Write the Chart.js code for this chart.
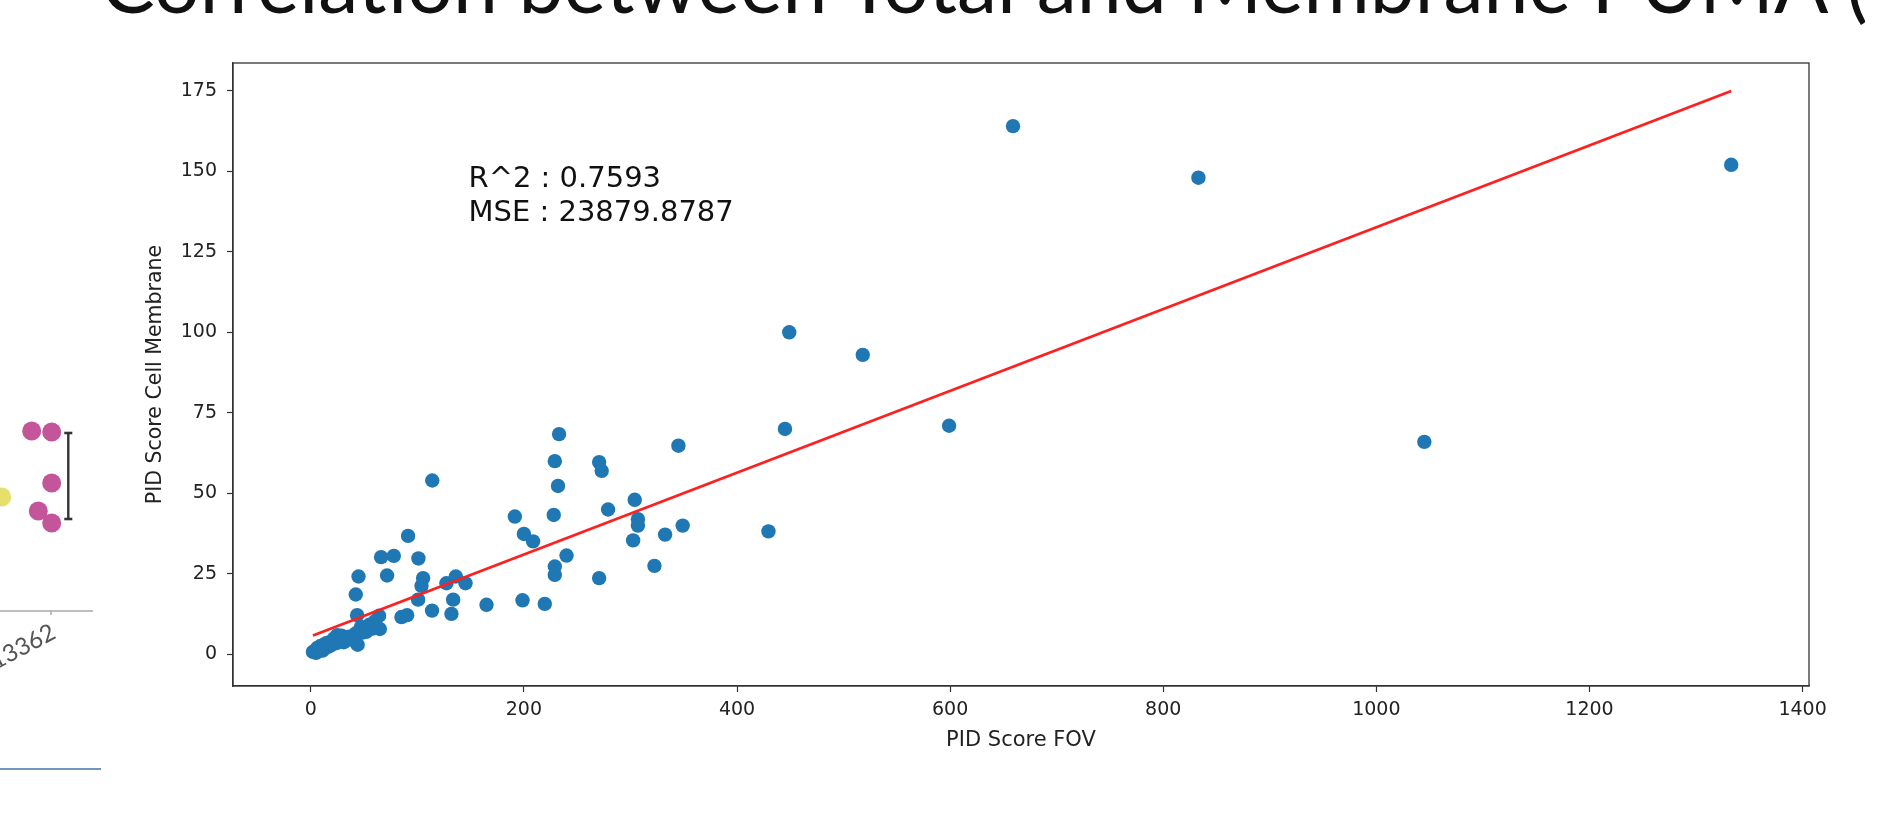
<!DOCTYPE html>
<html><head><meta charset="utf-8">
<script src="https://cdn.jsdelivr.net/npm/chart.js@4.4.1/dist/chart.umd.min.js"></script>
<style>
html,body{margin:0;padding:0;background:#fff;width:1877px;height:829px;overflow:hidden;position:relative;}
#main{position:absolute;left:0;top:0;}
#frag{position:absolute;left:0;top:380px;}
#slideTitle{position:absolute;left:101px;top:0;white-space:nowrap;font-family:Lato,'Open Sans',sans-serif;font-weight:400;color:#111;line-height:1;}
#sep{position:absolute;left:0;top:768px;width:101px;height:2px;background:#7096bb;}
</style></head><body>
<div id="slideTitle"><span id="titleMain">Correlation between Total and Membrane PUMA</span> (<span id="bl" style="display:inline-block;width:0;height:0;vertical-align:baseline"></span></div>
<canvas id="main" width="1877" height="829"></canvas>
<canvas id="frag" width="110" height="420"></canvas>
<div id="sep"></div>
<script>
// ---------------- main scatter data ----------------
const pidScoreFOV = [
  659, 833, 1333, 449, 518, 445, 599, 1045,
  233, 345, 114,
  229, 270.6, 273, 232, 304, 279, 307, 307, 349, 332.5, 302.5, 429.5, 322.5,
  228, 191.5, 200, 208.6, 229, 229, 240, 270.6, 198.7, 219.6, 164.9,
  91.3, 101, 66, 77.9, 71.6, 44.8, 42.2, 105.4, 103.9, 100.7, 127.3, 136.1, 145.2, 133.6, 132, 113.8,
  43.5, 64.1, 85.1, 90.4, 64.8,
  2, 4, 5, 6, 8, 9, 11, 12, 14, 15, 17, 19, 20, 22, 24, 25, 27, 29, 31, 33, 36, 39, 42, 44, 47, 49, 52, 55, 58, 60
];
const pidScoreMembrane = [
  164, 148, 152, 100, 93, 70, 71, 66,
  68.4, 64.8, 54,
  60, 59.7, 57, 52.3, 48, 45, 42, 40, 40, 37.2, 35.4, 38.2, 27.5,
  43.3, 42.8, 37.4, 35.1, 27.3, 24.7, 30.7, 23.7, 16.8, 15.7, 15.4,
  36.8, 29.8, 30.2, 30.6, 24.5, 24.2, 18.6, 23.7, 21.3, 17, 22.1, 24.2, 22.1, 17, 12.6, 13.6,
  12.2, 12, 11.6, 12.2, 7.9,
  0.8, 1.2, 0.5, 2, 1.5, 2.6, 1.2, 3, 2, 3.6, 2.5, 4, 3, 5, 3.5, 6, 4.5, 5.8, 3.8, 5, 5.5, 4.5, 6.5, 3, 8.5, 6.8, 7, 9.2, 8, 10.2
];
const fitLineX = [2, 1333];
const fitLineY = [5.9, 174.9];
const xTickValues = [0, 200, 400, 600, 800, 1000, 1200, 1400];
const yTickValues = [0, 25, 50, 75, 100, 125, 150, 175];
const xLimits = [-73, 1406];
const yLimits = [-9.8, 183.6];
const statsLines = ['R^2 : 0.7593', 'MSE : 23879.8787'];
const statsAnchor = [148, 145.2];

// ---------------- left fragment (cropped neighbour chart) ----------------
const fragPinkX = [0.807, 1.007, 1.007, 0.873, 1.007];
const fragPinkY = [18.0, 17.9, 12.8, 10.0, 8.8];
const fragYellowX = [0.507];
const fragYellowY = [11.4];
const fragErrX = [1.173, 1.173];
const fragErrY = [9.2, 17.8];
const fragCategoryValue = 1;
const fragCategoryLabel = '13362';

// ---------------- slide title fit ----------------
(function(){
  const tEl = document.getElementById('slideTitle');
  const tm = document.getElementById('titleMain');
  tEl.style.fontSize = '100px';
  const w = tm.getBoundingClientRect().width;
  tEl.style.fontSize = (100 * 1725 / w) + 'px';
  const bl = document.getElementById('bl').getBoundingClientRect().bottom;
  tEl.style.top = (13 - bl) + 'px';
})();

const boxPlugin = {
  id: 'boxPlugin',
  afterDraw(chart) {
    const {ctx, chartArea: a} = chart;
    ctx.save();
    ctx.strokeStyle = '#333';
    ctx.lineWidth = 1.3;
    ctx.strokeRect(a.left, a.top, a.right - a.left, a.bottom - a.top);
    ctx.restore();
  }
};
const statsPlugin = {
  id: 'statsPlugin',
  afterDraw(chart) {
    const {ctx, scales} = chart;
    const x = scales.x.getPixelForValue(statsAnchor[0]);
    const y = scales.y.getPixelForValue(statsAnchor[1]);
    ctx.save();
    ctx.font = '29px "DejaVu Sans"';
    ctx.fillStyle = '#111';
    ctx.textAlign = 'left';
    ctx.textBaseline = 'alphabetic';
    statsLines.forEach((t, i) => ctx.fillText(t, x, y + i * 34.5));
    ctx.restore();
  }
};

new Chart(document.getElementById('main'), {
  type: 'scatter',
  data: {
    datasets: [
      {
        type: 'line',
        data: fitLineX.map((x, i) => ({x, y: fitLineY[i]})),
        borderColor: '#ff1f1f', borderWidth: 2.7, pointRadius: 0, fill: false, tension: 0
      },
      {
        data: pidScoreFOV.map((x, i) => ({x, y: pidScoreMembrane[i]})),
        backgroundColor: '#1f77b4', borderWidth: 0, pointRadius: 7.2, pointHoverRadius: 7.2
      }
    ]
  },
  options: {
    responsive: false, animation: false, events: [],
    layout: {autoPadding: false, padding: {left: 143.5, right: 68, top: 63, bottom: 76}},
    plugins: {legend: {display: false}, tooltip: {enabled: false}},
    scales: {
      x: {
        type: 'linear', min: xLimits[0], max: xLimits[1],
        afterBuildTicks: s => { s.ticks = xTickValues.map(v => ({value: v})); },
        afterFit: s => { s.height = 67; },
        grid: {drawOnChartArea: false, drawTicks: true, tickLength: 6, tickWidth: 1.2, tickColor: '#333', color: '#333'},
        border: {display: true, color: '#333', width: 1.3},
        ticks: {font: {family: 'DejaVu Sans', size: 19}, color: '#222', padding: 7, maxRotation: 0, autoSkip: false, callback: v => String(v)},
        title: {display: true, text: 'PID Score FOV', font: {family: 'DejaVu Sans', size: 21}, color: '#222', padding: 0}
      },
      y: {
        type: 'linear', min: yLimits[0], max: yLimits[1],
        afterBuildTicks: s => { s.ticks = yTickValues.map(v => ({value: v})); },
        afterFit: s => { s.width = 89.5; },
        grid: {drawOnChartArea: false, drawTicks: true, tickLength: 6, tickWidth: 1.2, tickColor: '#333', color: '#333'},
        border: {display: true, color: '#333', width: 1.3},
        ticks: {font: {family: 'DejaVu Sans', size: 19}, color: '#222', padding: 10, autoSkip: false, callback: v => String(v)},
        title: {display: true, text: 'PID Score Cell Membrane', font: {family: 'DejaVu Sans', size: 20.5}, color: '#222', padding: 0}
      }
    }
  },
  plugins: [boxPlugin, statsPlugin]
});

// ---------------- fragment chart ----------------
const fragAxisPlugin = {
  id: 'fragAxis',
  afterDraw(chart) {
    const {ctx, scales} = chart;
    const y0 = scales.y.getPixelForValue(0);
    const xEnd = scales.x.getPixelForValue(1.42);
    const xc = scales.x.getPixelForValue(fragCategoryValue);
    ctx.save();
    ctx.strokeStyle = '#a8a8a8';
    ctx.lineWidth = 1.5;
    ctx.beginPath(); ctx.moveTo(0, y0); ctx.lineTo(xEnd, y0); ctx.stroke();
    ctx.beginPath(); ctx.moveTo(xc, y0); ctx.lineTo(xc, y0 + 4); ctx.stroke();
    ctx.translate(xc - 3, y0 + 9);
    ctx.rotate(-28 * Math.PI / 180);
    ctx.font = '24px Lato';
    ctx.fillStyle = '#555';
    ctx.textAlign = 'right';
    ctx.textBaseline = 'top';
    ctx.fillText(fragCategoryLabel, 0, 0);
    ctx.restore();
  }
};
new Chart(document.getElementById('frag'), {
  type: 'scatter',
  data: {
    datasets: [
      {
        type: 'line',
        data: fragErrX.map((x, i) => ({x, y: fragErrY[i]})),
        borderColor: '#333', borderWidth: 2.4,
        pointStyle: 'line', pointRadius: 4, pointBorderWidth: 2.6, pointBorderColor: '#333', fill: false
      },
      {
        data: fragPinkX.map((x, i) => ({x, y: fragPinkY[i]})),
        backgroundColor: '#c4559a', borderWidth: 0, pointRadius: 9.5
      },
      {
        data: fragYellowX.map((x, i) => ({x, y: fragYellowY[i]})),
        backgroundColor: '#e6df6c', borderWidth: 0, pointRadius: 9.5
      }
    ]
  },
  options: {
    responsive: false, animation: false, events: [],
    layout: {autoPadding: false, padding: 0},
    plugins: {legend: {display: false}, tooltip: {enabled: false}},
    scales: {
      x: {type: 'linear', display: false, min: 0.49, max: 1.59},
      y: {type: 'linear', display: false, min: -18.9, max: 23.1}
    }
  },
  plugins: [fragAxisPlugin]
});
</script>
</body></html>
